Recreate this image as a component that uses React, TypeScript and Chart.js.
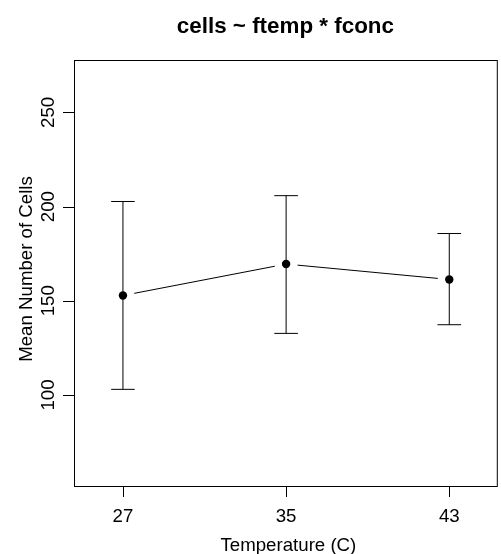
import React, { useEffect, useRef } from "react";
import { Chart, registerables } from "chart.js";

Chart.register(...registerables);

const temps = [27, 35, 43];
const means = [152.8, 169.5, 161.3];
const lower = [103.0, 132.7, 137.3];
const upper = [202.7, 205.8, 185.7];
const xTicks = [27, 35, 43];
const yTicks = [100, 150, 200, 250];
const titleText = "cells ~ ftemp * fconc";
const xTitle = "Temperature (C)";
const yTitle = "Mean Number of Cells";

const FONT = "'Liberation Sans', Arial, Helvetica, sans-serif";

const rPlugin = {
  id: "rstyle",
  beforeDatasetsDraw(chart: any) {
    const ctx = chart.ctx;
    const xs = chart.scales.x;
    const ys = chart.scales.y;
    ctx.save();
    ctx.strokeStyle = "#000";
    ctx.lineWidth = 1;
    const cap = 11.8;
    temps.forEach((t, i) => {
      const px = xs.getPixelForValue(t);
      const pl = ys.getPixelForValue(lower[i]);
      const pu = ys.getPixelForValue(upper[i]);
      ctx.beginPath();
      ctx.moveTo(px, pl);
      ctx.lineTo(px, pu);
      ctx.moveTo(px - cap, pu);
      ctx.lineTo(px + cap, pu);
      ctx.moveTo(px - cap, pl);
      ctx.lineTo(px + cap, pl);
      ctx.stroke();
    });
    const gap = 11.5;
    for (let i = 0; i < temps.length - 1; i++) {
      const x0 = xs.getPixelForValue(temps[i]);
      const y0 = ys.getPixelForValue(means[i]);
      const x1 = xs.getPixelForValue(temps[i + 1]);
      const y1 = ys.getPixelForValue(means[i + 1]);
      const d = Math.hypot(x1 - x0, y1 - y0);
      const ux = (x1 - x0) / d;
      const uy = (y1 - y0) / d;
      ctx.beginPath();
      ctx.moveTo(x0 + ux * gap, y0 + uy * gap);
      ctx.lineTo(x1 - ux * gap, y1 - uy * gap);
      ctx.stroke();
    }
    ctx.restore();
  },
  afterDraw(chart: any) {
    const ctx = chart.ctx;
    const a = chart.chartArea;
    const xs = chart.scales.x;
    const ys = chart.scales.y;
    ctx.save();
    ctx.strokeStyle = "#000";
    ctx.fillStyle = "#000";
    ctx.lineWidth = 1;
    ctx.strokeRect(a.left + 0.5, a.top + 0.5, a.right - a.left, a.bottom - a.top);
    ctx.font = `18.67px ${FONT}`;
    ctx.textAlign = "center";
    ctx.textBaseline = "alphabetic";
    xTicks.forEach((t) => {
      const px = Math.round(xs.getPixelForValue(t)) + 0.5;
      ctx.beginPath();
      ctx.moveTo(px, a.bottom);
      ctx.lineTo(px, a.bottom + 11);
      ctx.stroke();
      ctx.fillText(String(t), xs.getPixelForValue(t), 522);
    });
    yTicks.forEach((t) => {
      const py = Math.round(ys.getPixelForValue(t)) + 0.5;
      ctx.beginPath();
      ctx.moveTo(a.left, py);
      ctx.lineTo(a.left - 11, py);
      ctx.stroke();
      ctx.save();
      ctx.translate(53.5, ys.getPixelForValue(t));
      ctx.rotate(-Math.PI / 2);
      ctx.fillText(String(t), 0, 0);
      ctx.restore();
    });
    ctx.fillText(xTitle, (a.left + a.right) / 2 + 3, 551);
    ctx.save();
    ctx.translate(31.5, (a.top + a.bottom) / 2 - 4);
    ctx.rotate(-Math.PI / 2);
    ctx.fillText(yTitle, 0, 0);
    ctx.restore();
    ctx.font = `bold 22.4px ${FONT}`;
    ctx.fillText(titleText, (a.left + a.right) / 2, 33);
    ctx.restore();
  },
};

export default function App() {
  const ref = useRef<HTMLCanvasElement | null>(null);
  useEffect(() => {
    if (!ref.current) return;
    const chart = new Chart(ref.current, {
      type: "scatter",
      data: {
        datasets: [
          {
            data: temps.map((t, i) => ({ x: t, y: means[i] })),
            showLine: false,
            pointRadius: 4.2,
            pointHoverRadius: 4.2,
            pointBackgroundColor: "#000",
            pointBorderColor: "#000",
            pointBorderWidth: 0,
          },
        ],
      },
      options: {
        responsive: false,
        animation: false,
        devicePixelRatio: 1,
        layout: { padding: { left: 74, top: 60, right: 1, bottom: 68 } },
        plugins: {
          legend: { display: false },
          title: { display: false },
          tooltip: { enabled: false },
        },
        scales: {
          x: { type: "linear", min: 24.6, max: 45.33, display: false },
          y: { type: "linear", min: 51.7, max: 277.8, display: false },
        },
      },
      plugins: [rPlugin],
    });
    return () => chart.destroy();
  }, []);
  return (
    <div style={{ position: "fixed", left: 0, top: 0, width: 501, height: 554, background: "#fff" }}>
      <canvas ref={ref} width={501} height={554} style={{ display: "block", width: 501, height: 554 }} />
    </div>
  );
}
